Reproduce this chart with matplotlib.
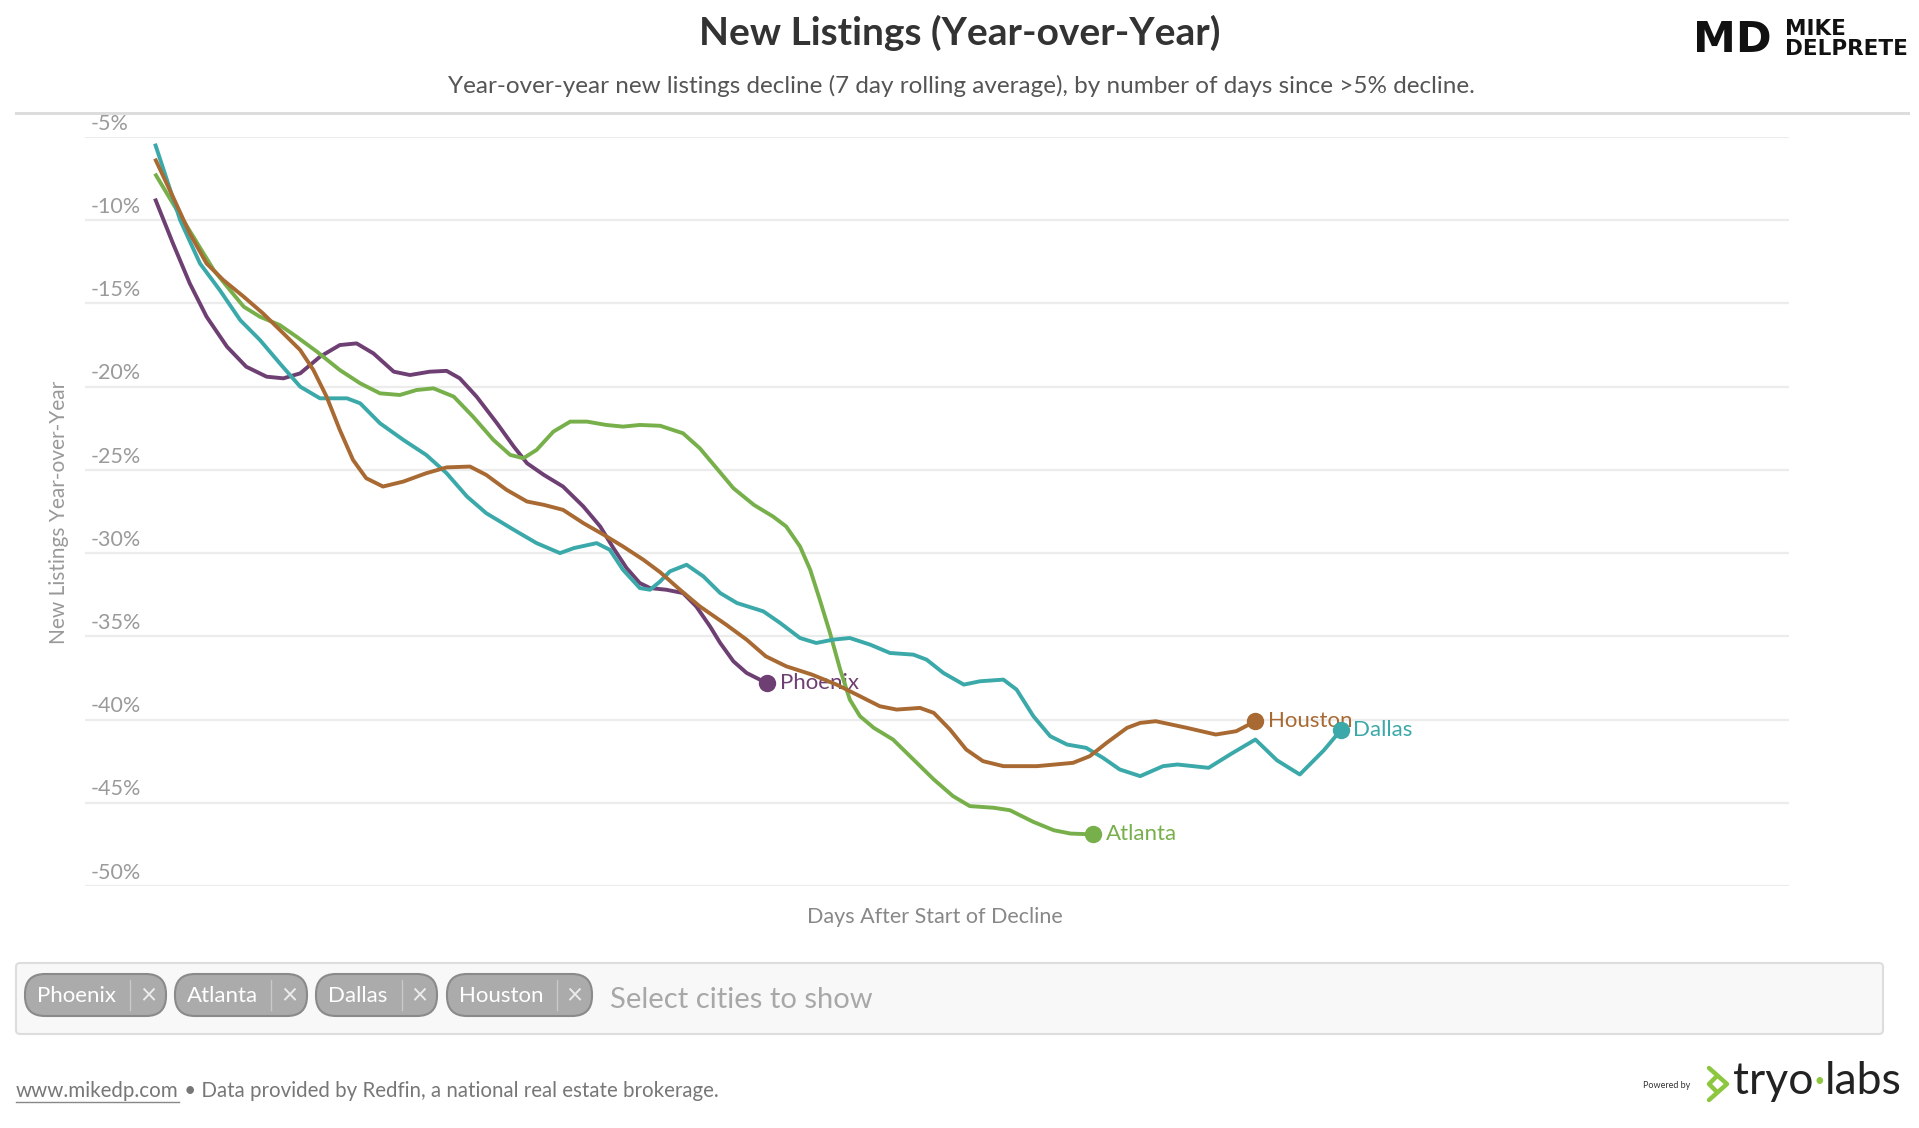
import matplotlib
matplotlib.use('Agg')
import matplotlib.pyplot as plt
from matplotlib.patches import FancyBboxPatch

plt.rcParams['font.family'] = ['Lato', 'DejaVu Sans']

# days after start of decline / YoY new listings change (%)
phoenix_days = [0, 1.5, 2.9, 4.3, 6.0, 7.6, 9.3, 10.7, 12.1, 13.75,
                15.4, 16.8, 18.2, 19.9, 21.25, 22.9, 24.3, 25.4, 26.8, 28.5,
                29.9, 31.0, 32.4, 34.0, 35.7, 37.1, 38.2, 39.3, 40.4, 41.25,
                42.6, 44.0, 45.1, 46.25, 47.1, 48.2, 49.3, 50.4, 51.0]
phoenix_vals = [-8.7, -11.4, -13.8, -15.8, -17.6, -18.8, -19.4, -19.5, -19.2, -18.2,
                -17.5, -17.4, -18.0, -19.1, -19.3, -19.1, -19.05, -19.5, -20.6, -22.2,
                -23.6, -24.6, -25.3, -26.0, -27.2, -28.4, -29.7, -30.9, -31.8, -32.1,
                -32.2, -32.4, -33.2, -34.4, -35.4, -36.5, -37.2, -37.6, -37.8]

atlanta_days = [0, 1.5, 3.2, 4.9, 6.25, 7.4, 8.75, 10.4, 11.8, 13.5,
                15.4, 17.1, 18.75, 20.4, 21.8, 23.2, 24.9, 26.5, 28.2, 29.6,
                30.7, 31.8, 33.2, 34.6, 36.0, 37.6, 39.0, 40.4, 42.1, 44.0,
                45.4, 46.8, 48.2, 49.9, 51.5, 52.6, 53.75, 54.6, 55.4, 56.25,
                57.1, 57.9, 58.75, 59.9, 61.5, 63.2, 64.9, 66.5, 67.9, 69.9,
                71.25, 73.2, 74.9, 76.3, 78.2]
atlanta_vals = [-7.2, -9.0, -11.0, -13.0, -14.2, -15.2, -15.8, -16.3, -17.0, -17.9,
                -19.0, -19.8, -20.4, -20.5, -20.2, -20.1, -20.6, -21.8, -23.2, -24.1,
                -24.3, -23.8, -22.7, -22.1, -22.1, -22.3, -22.4, -22.3, -22.35, -22.8,
                -23.7, -24.9, -26.1, -27.1, -27.8, -28.4, -29.6, -31.0, -32.8, -34.8,
                -37.0, -38.8, -39.8, -40.5, -41.2, -42.4, -43.6, -44.6, -45.2, -45.3,
                -45.45, -46.15, -46.65, -46.85, -46.9]

dallas_days = [0, 2.1, 3.75, 5.4, 7.1, 8.75, 10.4, 12.1, 13.75, 16.0,
               17.1, 18.75, 20.7, 22.6, 24.3, 26.0, 27.6, 29.9, 31.8, 33.75,
               34.9, 36.8, 37.9, 39.0, 40.4, 41.25, 42.1, 42.9, 44.3, 45.7,
               47.1, 48.5, 50.7, 52.1, 53.75, 55.1, 56.5, 57.9, 59.6, 61.25,
               63.2, 64.3, 65.7, 67.4, 68.75, 70.7, 71.8, 73.2, 74.6, 76.0,
               77.6, 79.0, 80.4, 82.1, 84.0, 85.2, 87.8, 89.7, 91.7, 93.5,
               95.4, 97.4, 98.8]
dallas_vals = [-5.4, -10.0, -12.6, -14.2, -16.0, -17.2, -18.6, -20.0, -20.7, -20.7,
               -21.0, -22.2, -23.2, -24.1, -25.2, -26.6, -27.6, -28.6, -29.4, -30.0,
               -29.7, -29.4, -29.8, -31.0, -32.1, -32.2, -31.7, -31.1, -30.7, -31.4,
               -32.4, -33.0, -33.5, -34.2, -35.1, -35.4, -35.2, -35.1, -35.5, -36.0,
               -36.1, -36.4, -37.2, -37.9, -37.7, -37.6, -38.2, -39.8, -41.0, -41.5,
               -41.7, -42.3, -43.0, -43.4, -42.8, -42.7, -42.9, -42.05, -41.2, -42.45,
               -43.3, -41.85, -40.65]

houston_days = [0, 1.5, 2.9, 4.3, 5.7, 7.4, 9.0, 10.7, 12.1, 13.2,
                14.3, 15.4, 16.5, 17.6, 19.0, 20.7, 22.6, 24.3, 26.25, 27.6,
                29.3, 31.0, 32.4, 34.0, 35.7, 37.4, 39.0, 40.7, 42.1, 43.75,
                45.4, 47.6, 49.3, 50.9, 52.6, 54.75, 56.8, 58.75, 60.4, 61.8,
                63.75, 64.9, 66.25, 67.6, 69.0, 70.7, 73.5, 76.5, 77.9, 79.3,
                81.0, 82.1, 83.4, 86.0, 88.4, 90.1, 91.7]
houston_vals = [-6.3, -8.6, -10.8, -12.6, -13.6, -14.6, -15.6, -16.8, -17.8, -19.0,
                -20.6, -22.6, -24.4, -25.5, -26.0, -25.7, -25.2, -24.85, -24.8, -25.3,
                -26.2, -26.9, -27.1, -27.4, -28.2, -28.9, -29.6, -30.4, -31.15, -32.2,
                -33.2, -34.3, -35.2, -36.2, -36.8, -37.3, -37.9, -38.6, -39.2, -39.4,
                -39.3, -39.6, -40.6, -41.8, -42.5, -42.8, -42.8, -42.6, -42.2, -41.4,
                -40.5, -40.2, -40.1, -40.5, -40.9, -40.7, -40.1]

cities = ['Phoenix', 'Atlanta', 'Dallas', 'Houston']
city_days = [phoenix_days, atlanta_days, dallas_days, houston_days]
city_vals = [phoenix_vals, atlanta_vals, dallas_vals, houston_vals]
colors = ['#6e3f72', '#77b04b', '#3ba9a9', '#a86a32']
yticks = [-5, -10, -15, -20, -25, -30, -35, -40, -45, -50]

W, H = 1919, 1128
fig = plt.figure(figsize=(W / 100, H / 100), dpi=100)

# page elements in pixel coordinates
ui = fig.add_axes([0, 0, 1, 1])
ui.set_xlim(0, W)
ui.set_ylim(H, 0)
ui.axis('off')

ui.plot([16, 1908], [113, 113], color='#dddddd', lw=2.2)
ui.text(960, 33, 'New Listings (Year-over-Year)', ha='center', va='center',
        fontsize=28, fontweight='bold', color='#333333')
ui.text(961, 86, 'Year-over-year new listings decline (7 day rolling average), by number of days since >5% decline.',
        ha='center', va='center', fontsize=17.5, color='#555555')

ui.text(1693, 40, 'MD', ha='left', va='center', fontsize=31, fontweight='bold',
        family='DejaVu Sans', color='#111111')
ui.text(1785, 29, 'MIKE', ha='left', va='center', fontsize=15.5, fontweight='bold',
        family='DejaVu Sans', color='#111111')
ui.text(1785, 49, 'DELPRETE', ha='left', va='center', fontsize=15.5, fontweight='bold',
        family='DejaVu Sans', color='#111111')

# city selector box
ui.add_patch(FancyBboxPatch((16, 963), 1867, 71, boxstyle='round,pad=0,rounding_size=4',
                            fc='#f8f8f8', ec='#dddddd', lw=1.5))
chip_left = [25, 175, 316, 447]
chip_right = [166, 307, 437, 592]
chip_div = [130, 271, 402, 557]
for name, l, r, d in zip(cities, chip_left, chip_right, chip_div):
    ui.add_patch(FancyBboxPatch((l, 974), r - l, 42, boxstyle='round,pad=0,rounding_size=20',
                                fc='#ababab', ec='#8a8a8a', lw=1.5))
    ui.text(l + 12, 996, name, ha='left', va='center', fontsize=16, color='white')
    ui.plot([d, d], [980, 1010], color='#c9c9c9', lw=1)
    ui.text((d + r) / 2, 996, '×', ha='center', va='center', fontsize=20, color='#ececec')
ui.text(610, 1000, 'Select cities to show', ha='left', va='center', fontsize=21, color='#a8a8a8')

# footer
fig.canvas.draw()
rend = fig.canvas.get_renderer()
link = ui.text(16, 1091, 'www.mikedp.com', ha='left', va='center', fontsize=14.8, color='#777777')
lw_px = link.get_window_extent(rend).width
ui.plot([16, 16 + lw_px], [1102, 1102], color='#888888', lw=1)
ui.text(16 + lw_px, 1091, ' • Data provided by Redfin, a national real estate brokerage.',
        ha='left', va='center', fontsize=14.8, color='#777777')

ui.text(1643, 1086, 'Powered by', ha='left', va='center', fontsize=6.5, color='#333333')
ui.plot([1709, 1727, 1709], [1068, 1084, 1100], color='#8dc63f', lw=3.2, solid_capstyle='round')
ui.plot([1717, 1709, 1717], [1076, 1084, 1092], color='#8dc63f', lw=3.2, solid_capstyle='round')
x0 = 1733
for part, col in [('tryo', '#222222'), ('·', '#8dc63f'), ('labs', '#222222')]:
    t = ui.text(x0, 1081, part, ha='left', va='center', fontsize=32, color=col)
    x0 += t.get_window_extent(rend).width

# chart
ax = fig.add_axes([85 / W, 1 - 886 / H, 1704 / W, 749 / H])
ax.set_xlim(-70 / 12, 1634 / 12)
ax.set_ylim(-50, -5)
ax.set_facecolor('none')
for s in ax.spines.values():
    s.set_visible(False)
ax.set_xticks([])
ax.set_yticks([])
for v in yticks:
    ax.axhline(v, color='#ececec', lw=1.6, zorder=0)
    ax.text(0.0035, v + 0.2, f'{v}%', transform=ax.get_yaxis_transform(), ha='left', va='bottom',
            fontsize=15.5, color='#9a9a9a')

for name, d, v, c in zip(cities, city_days, city_vals, colors):
    ax.plot(d, v, color=c, lw=2.8, solid_joinstyle='round', solid_capstyle='butt', zorder=3)
    ax.plot(d[-1], v[-1], 'o', ms=11.5, color=c, zorder=4)
    ax.annotate(name, (d[-1], v[-1]), xytext=(9, 0), textcoords='offset points',
                ha='left', va='center', fontsize=16, color=c, zorder=2)

fig.text(59 / W, 1 - 512 / H, 'New Listings Year-over-Year', rotation=90, ha='center', va='center',
         fontsize=15, color='#999999')
fig.text(935 / W, 1 - 917 / H, 'Days After Start of Decline', ha='center', va='center',
         fontsize=15.5, color='#888888')

fig.savefig('out.png', dpi=100)
